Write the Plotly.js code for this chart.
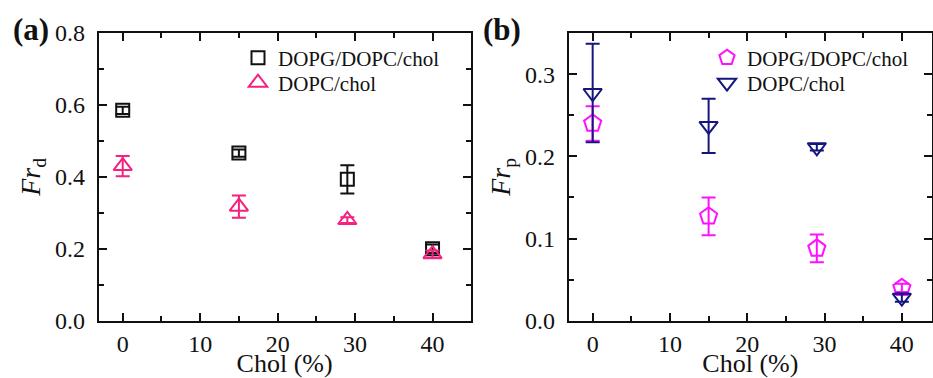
<!DOCTYPE html>
<html>
<head>
<meta charset="utf-8">
<script src="https://cdn.plot.ly/plotly-3.0.1.min.js"></script>
<style>html,body{margin:0;padding:0;background:#fff;}#chart{width:933px;height:378px;}</style>
</head>
<body>
<div id="chart"></div>
<script>
// Panel (a): Fr_d
const cholA = [0, 15, 29, 40];
const frdDOPG = [0.585, 0.466, 0.393, 0.200];
const frdDOPGerr = [0.010, 0.010, 0.039, 0.012];
const frdDOPC = [0.430, 0.317, 0.280, 0.185];
const frdDOPCerr = [0.028, 0.031, 0.008, 0.010];

// Panel (b): Fr_p
const cholB = [0, 15, 29, 40];
const frpDOPG = [0.240, 0.127, 0.088, 0.040];
const frpDOPGerr = [0.021, 0.023, 0.017, 0.005];
const frpDOPC = [0.277, 0.237, 0.211, 0.028];
const frpDOPCerr = [0.060, 0.033, 0.004, 0.005];

const seriesNames = ['DOPG/DOPC/chol', 'DOPC/chol'];
const xTicks = [0, 10, 20, 30, 40];
const yTicksA = [0.0, 0.2, 0.4, 0.6, 0.8];
const yTicksB = [0.0, 0.1, 0.2, 0.3];

const BLACK = '#111111', PINK = '#f5207f', MAGENTA = '#ff10ff', NAVY = '#15157f';
const FONT = 'Liberation Serif';

function tr(x, y, e, name, sym, color, size, xa, ya, legend) {
  return {
    x: x, y: y, type: 'scatter', mode: 'markers', name: name,
    xaxis: xa, yaxis: ya, legend: legend,
    marker: {symbol: sym, size: size, color: color, line: {color: color, width: 2}},
    error_y: {type: 'data', array: e, visible: true, color: color, thickness: 2, width: 7},
    cliponaxis: false
  };
}

const data = [
  tr(cholA, frdDOPG, frdDOPGerr, seriesNames[0], 'square-open', BLACK, 13, 'x', 'y', 'legend'),
  tr(cholA, frdDOPC, frdDOPCerr, seriesNames[1], 'triangle-up-open', PINK, 16, 'x', 'y', 'legend2'),
  tr(cholB, frpDOPG, frpDOPGerr, seriesNames[0], 'pentagon-open', MAGENTA, 18, 'x2', 'y2', 'legend3'),
  tr(cholB, frpDOPC, frpDOPCerr, seriesNames[1], 'triangle-down-open', NAVY, 16, 'x2', 'y2', 'legend4')
];

function xaxisDef(domain, anchor) {
  return {
    domain: domain, anchor: anchor, range: [-3.1, 44.9],
    tickvals: xTicks, ticktext: xTicks.map(String),
    ticks: 'inside', ticklen: 8, tickwidth: 2, tickcolor: BLACK,
    minor: {ticks: 'inside', ticklen: 5, tickwidth: 2, tickcolor: BLACK, tickvals: [5, 15, 25, 35]},
    showline: true, linecolor: BLACK, linewidth: 2, mirror: 'ticks',
    showgrid: false, zeroline: false,
    tickfont: {family: FONT, size: 24, color: BLACK},
    title: {text: 'Chol (%)', font: {family: FONT, size: 26, color: BLACK}, standoff: 3}
  };
}
function yaxisDef(domain, anchor, range, ticks, minorVals, titleText) {
  return {
    domain: domain, anchor: anchor, range: range,
    tickvals: ticks, ticktext: ticks.map(v => v.toFixed(1)),
    ticks: 'inside', ticklen: 8, tickwidth: 2, tickcolor: BLACK,
    minor: {ticks: 'inside', ticklen: 5, tickwidth: 2, tickcolor: BLACK, tickvals: minorVals},
    showline: true, linecolor: BLACK, linewidth: 2, mirror: 'ticks',
    showgrid: false, zeroline: false,
    tickfont: {family: FONT, size: 24, color: BLACK},
    ticklabelstandoff: 7,
    title: {text: titleText, font: {family: FONT, size: 28, color: BLACK}, standoff: 6}
  };
}

function legendDef(xpx, ypx) {
  return {x: xpx / 933, y: 1 - ypx / 378, xanchor: 'left', yanchor: 'middle', bgcolor: 'rgba(0,0,0,0)',
          font: {family: FONT, size: 21, color: BLACK}, itemwidth: 30};
}

const yDom = [1 - 320.7 / 378, 1 - 33 / 378];
const layout = {
  width: 933, height: 378,
  margin: {l: 0, r: 0, t: 0, b: 0},
  paper_bgcolor: '#fff', plot_bgcolor: '#fff',
  font: {family: FONT, color: BLACK},
  showlegend: true,
  xaxis: xaxisDef([98.7 / 933, 470.5 / 933], 'y'),
  yaxis: yaxisDef(yDom, 'x', [0, 0.8], yTicksA, [0.1, 0.3, 0.5, 0.7], '<i>Fr</i><sub>d</sub>'),
  xaxis2: Object.assign(xaxisDef([568.7 / 933, 932 / 933], 'y2'), {range: [-3.1, 43.9]}),
  yaxis2: yaxisDef(yDom, 'x2', [0, 0.35], yTicksB, [0.05, 0.15, 0.25], '<i>Fr</i><sub>p</sub>'),
  legend: legendDef(238, 58),
  legend2: legendDef(238, 83),
  legend3: legendDef(707, 58),
  legend4: legendDef(707, 83),
  annotations: [
    {text: '<b>(a)</b>', x: 11 / 933, y: 1 - 30 / 378, xref: 'paper', yref: 'paper', xanchor: 'left', yanchor: 'middle',
     showarrow: false, font: {family: FONT, size: 31, color: BLACK}},
    {text: '<b>(b)</b>', x: 481 / 933, y: 1 - 30 / 378, xref: 'paper', yref: 'paper', xanchor: 'left', yanchor: 'middle',
     showarrow: false, font: {family: FONT, size: 31, color: BLACK}}
  ]
};

Plotly.newPlot('chart', data, layout, {displayModeBar: false, staticPlot: true});
</script>
</body>
</html>
